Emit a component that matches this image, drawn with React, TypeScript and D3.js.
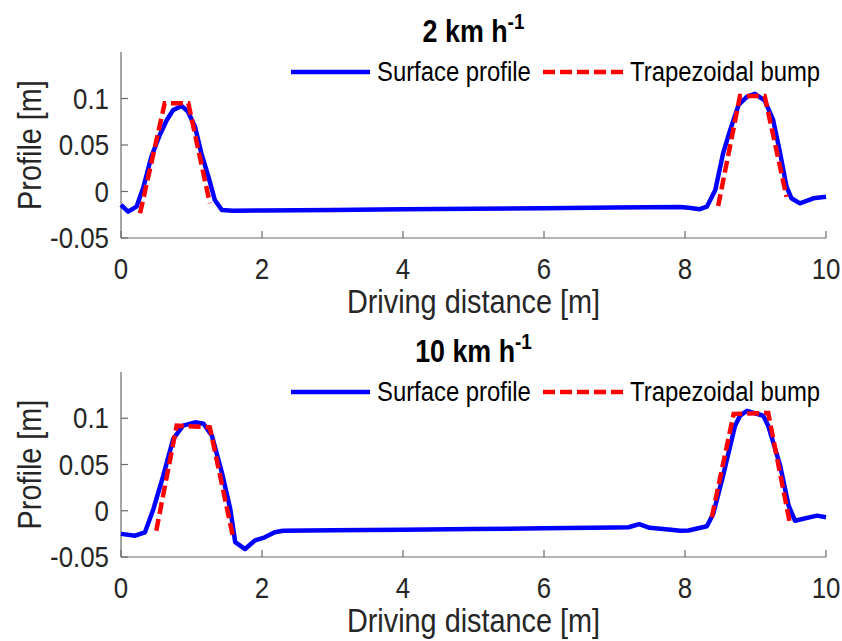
import React from "react";
import * as d3 from "d3";

const xTicks = [0, 2, 4, 6, 8, 10];
const yTicks = [-0.05, 0, 0.05, 0.1];
const yTickLabels = ["-0.05", "0", "0.05", "0.1"];
const titles = ["2 km h", "10 km h"];
const legendLabels = ["Surface profile", "Trapezoidal bump"];

// 2 km/h surface profile
const surf2X = [0, 0.1, 0.22, 0.32, 0.43, 0.55, 0.65, 0.74, 0.86, 0.95, 1.05, 1.14, 1.24, 1.33, 1.43, 1.59, 2, 3, 4, 5, 6, 7, 7.93, 8.05, 8.21, 8.31, 8.43, 8.54, 8.64, 8.76, 8.88, 8.99, 9.13, 9.25, 9.35, 9.44, 9.51, 9.63, 9.82, 10];
const surf2Y = [-0.0145, -0.0217, -0.0163, 0.0052, 0.0374, 0.0608, 0.0769, 0.0876, 0.092, 0.0858, 0.0697, 0.041, 0.0159, -0.0091, -0.0199, -0.0206, -0.0205, -0.0198, -0.0192, -0.0186, -0.018, -0.0173, -0.0166, -0.0175, -0.019, -0.0163, 0.0016, 0.041, 0.066, 0.093, 0.102, 0.105, 0.098, 0.077, 0.041, 0.0052, -0.0073, -0.0127, -0.0073, -0.0056];
// 2 km/h trapezoidal bumps
const trap2aX = [0.27, 0.62, 0.955, 1.26];
const trap2aY = [-0.0235, 0.0948, 0.0948, -0.0127];
const trap2bX = [8.47, 8.78, 9.13, 9.44];
const trap2bY = [-0.0156, 0.1027, 0.1027, -0.0056];

// 10 km/h surface profile
const surf10X = [0, 0.2, 0.34, 0.46, 0.6, 0.74, 0.88, 1.05, 1.17, 1.29, 1.43, 1.55, 1.62, 1.76, 1.9, 2.04, 2.18, 2.3, 3, 4, 5, 6, 7, 7.2, 7.35, 7.5, 7.65, 7.8, 7.93, 8.05, 8.31, 8.4, 8.54, 8.71, 8.78, 8.88, 9.11, 9.18, 9.35, 9.47, 9.56, 9.87, 10];
const surf10Y = [-0.025, -0.027, -0.0233, 0.002, 0.038, 0.0776, 0.092, 0.0956, 0.094, 0.081, 0.0416, 0.0019, -0.034, -0.0414, -0.032, -0.0287, -0.0233, -0.0216, -0.0212, -0.0205, -0.0198, -0.019, -0.0182, -0.0178, -0.0145, -0.0185, -0.0195, -0.0205, -0.0216, -0.0213, -0.0168, -0.0035, 0.038, 0.092, 0.1027, 0.108, 0.1027, 0.092, 0.0487, 0.0055, -0.0108, -0.0053, -0.007];
// 10 km/h trapezoidal bumps
const trap10aX = [0.5, 0.79, 1.26, 1.59];
const trap10aY = [-0.0216, 0.092, 0.0902, -0.0287];
const trap10bX = [8.38, 8.69, 9.18, 9.49];
const trap10bY = [-0.007, 0.1046, 0.1057, -0.0143];

const W = 842;
const H = 641;
const FONT = "'Liberation Sans', Arial, Helvetica, sans-serif";
const TXT = "#262626";
const AX = "#6b6b6b";
const SX = 0.88; // horizontal condensing of text
const SY = 1.13; // font enlargement

type Pt = [number, number];
const zip = (xs: number[], ys: number[]): Pt[] => xs.map((x, i) => [x, ys[i]]);

function T(props: {
  x: number;
  y: number;
  size: number;
  anchor?: string;
  bold?: boolean;
  fill?: string;
  rotate?: number;
  children: React.ReactNode;
}) {
  const { x, y, size, anchor = "start", bold, fill = TXT, rotate = 0, children } = props;
  return (
    <text
      transform={`translate(${x},${y}) rotate(${rotate}) scale(${SX},1)`}
      textAnchor={anchor}
      fontFamily={FONT}
      fontWeight={bold ? "bold" : "normal"}
      fontSize={size * SY}
      fill={fill}
    >
      {children}
    </text>
  );
}

interface PanelProps {
  top: number;
  bottom: number;
  title: string;
  surface: Pt[];
  traps: Pt[][];
}

function Panel({ top, bottom, title, surface, traps }: PanelProps) {
  const left = 121;
  const right = 826;
  const x = d3.scaleLinear().domain([0, 10]).range([left, right]);
  const y = d3.scaleLinear().domain([-0.05, 0.15]).range([bottom, top]);
  const line = d3
    .line<Pt>()
    .x((d) => x(d[0]))
    .y((d) => y(d[1]))
    .curve(d3.curveLinear);
  const tickLen = 7;
  const legY = top + 20;
  const cx = (left + right) / 2;
  return (
    <g>
      <T x={cx} y={top - 10} size={27} anchor="middle" bold fill="#000">
        {title}
        <tspan fontSize={19 * SY} dy={-13}>-1</tspan>
      </T>
      <line x1={left} x2={left} y1={top} y2={bottom} stroke={AX} strokeWidth={1.2} />
      <line x1={left} x2={right} y1={bottom} y2={bottom} stroke={AX} strokeWidth={1.2} />
      {xTicks.map((t) => (
        <g key={"x" + t}>
          <line x1={x(t)} x2={x(t)} y1={bottom} y2={bottom - tickLen} stroke={AX} strokeWidth={1.2} />
          <T x={x(t)} y={bottom + 41} size={26} anchor="middle">
            {t}
          </T>
        </g>
      ))}
      {yTicks.map((t, i) => (
        <g key={"y" + t}>
          <line x1={left} x2={left + tickLen} y1={y(t)} y2={y(t)} stroke={AX} strokeWidth={1.2} />
          <T x={left - 12} y={y(t) + 10} size={26} anchor="end">
            {yTickLabels[i]}
          </T>
        </g>
      ))}
      <T x={cx} y={bottom + 75} size={29} anchor="middle">
        Driving distance [m]
      </T>
      <T x={41} y={(top + bottom) / 2} size={29} anchor="middle" rotate={-90}>
        Profile [m]
      </T>
      <path d={line(surface) || ""} fill="none" stroke="#0000ff" strokeWidth={4.5} strokeLinejoin="round" />
      {traps.map((tr, i) => (
        <path
          key={i}
          d={line(tr) || ""}
          fill="none"
          stroke="#ff0000"
          strokeWidth={4.5}
          strokeDasharray="12 5"
        />
      ))}
      <line x1={right - 535} x2={right - 456} y1={legY} y2={legY} stroke="#0000ff" strokeWidth={4.5} />
      <T x={right - 449} y={legY + 9} size={24} fill="#000">
        {legendLabels[0]}
      </T>
      <line
        x1={right - 283}
        x2={right - 203}
        y1={legY}
        y2={legY}
        stroke="#ff0000"
        strokeWidth={4.5}
        strokeDasharray="12 5"
      />
      <T x={right - 196} y={legY + 9} size={24} fill="#000">
        {legendLabels[1]}
      </T>
    </g>
  );
}

export default function App() {
  return (
    <svg
      width={W}
      height={H}
      style={{ position: "absolute", left: 0, top: 0, background: "#fff" }}
    >
      <rect width={W} height={H} fill="#fff" />
      <Panel
        top={52}
        bottom={238}
        title={titles[0]}
        surface={zip(surf2X, surf2Y)}
        traps={[zip(trap2aX, trap2aY), zip(trap2bX, trap2bY)]}
      />
      <Panel
        top={372}
        bottom={557}
        title={titles[1]}
        surface={zip(surf10X, surf10Y)}
        traps={[zip(trap10aX, trap10aY), zip(trap10bX, trap10bY)]}
      />
    </svg>
  );
}
